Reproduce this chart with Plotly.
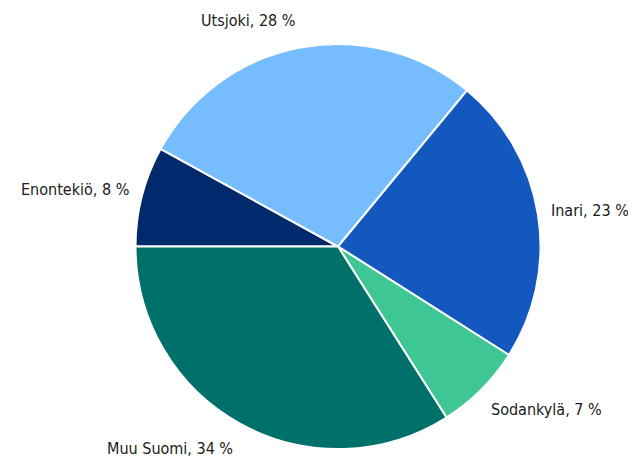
import math
import plotly.graph_objects as go

labels = ["Enontekiö", "Utsjoki", "Inari", "Sodankylä", "Muu Suomi"]
values = [8, 28, 23, 7, 34]
colors = ["#002A6B", "#75BDFF", "#1358BE", "#3EC795", "#00706B"]

# the page body adds 8px on top/left, so the figure is 8px smaller to fit the window
W, H = 628, 454
margin = dict(l=127, r=95, t=36, b=13)
plot_w = W - margin["l"] - margin["r"]
plot_h = H - margin["t"] - margin["b"]
start_angle = 270       # degrees clockwise from 12 o'clock
label_rx, label_ry = 214, 230  # px from the pie centre

fig = go.Figure(go.Pie(
    labels=labels,
    values=values,
    sort=False,
    direction="clockwise",
    rotation=270,
    marker=dict(colors=colors, line=dict(color="white", width=2)),
    textinfo="none",
    showlegend=False,
    hoverinfo="label+value",
))

# labels placed outside the slices, at each slice's mid angle
total = sum(values)
acc = 0
for lab, v in zip(labels, values):
    mid = math.radians(start_angle + (acc + v / 2) / total * 360)
    acc += v
    dx = label_rx * math.sin(mid)
    dy = label_ry * math.cos(mid)
    fig.add_annotation(
        x=0.5 + dx / plot_w,
        y=0.5 + dy / plot_h,
        xref="paper", yref="paper",
        text=f"{lab}, {v} %",
        showarrow=False,
        xanchor="left" if dx > 0 else "right",
        yanchor="middle",
        font=dict(family="DejaVu Sans Condensed, Liberation Sans Narrow, sans-serif",
                  size=16, color="#1a1a1a"),
    )

fig.update_layout(
    width=W,
    height=H,
    margin=margin,
    paper_bgcolor="white",
    plot_bgcolor="white",
)

fig.write_html("out.html")
